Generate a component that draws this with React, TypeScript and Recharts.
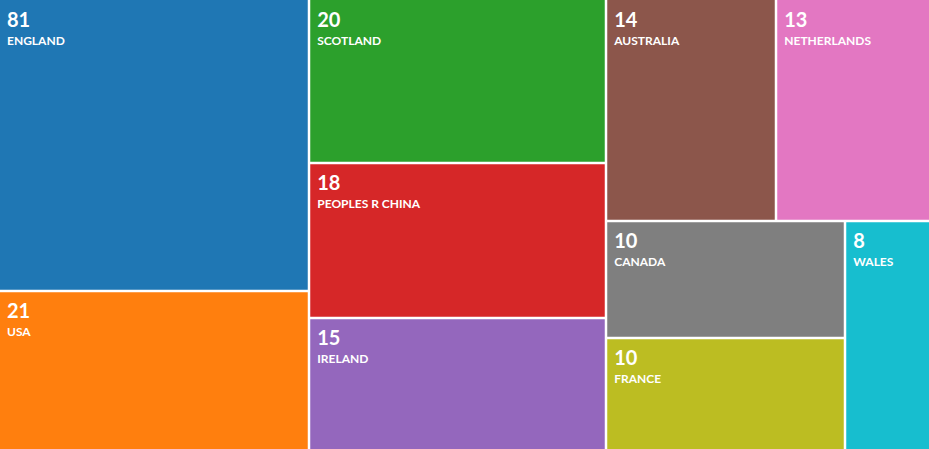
import React from "react";
import { Treemap } from "recharts";

// Category labels, displayed counts, and area weights
const countries = [
  "ENGLAND",
  "USA",
  "SCOTLAND",
  "PEOPLES R CHINA",
  "IRELAND",
  "AUSTRALIA",
  "NETHERLANDS",
  "CANADA",
  "FRANCE",
  "WALES",
];
const counts = [81, 21, 20, 18, 15, 14, 13, 10, 10, 8];
const areaWeights = [21.59, 11.67, 11.59, 11.02, 9.31, 9.03, 8.11, 6.72, 6.37, 4.59];

const PALETTE = [
  "#1f77b4",
  "#ff7f0e",
  "#2ca02c",
  "#d62728",
  "#9467bd",
  "#8c564b",
  "#e377c2",
  "#7f7f7f",
  "#bcbd22",
  "#17becf",
];

const W = 929;
const H = 449;
const GAP = 1.25;

const data = countries.map((name, i) => ({
  name,
  count: counts[i],
  size: areaWeights[i],
  colorIndex: i,
}));

const FONT = "Lato, 'Open Sans', sans-serif";

const Cell = (props: any) => {
  const { x, y, width, height, depth, name, count, colorIndex } = props;
  if (depth !== 1) return null;
  const x0 = x > 0.5 ? x + GAP : x;
  const y0 = y > 0.5 ? y + GAP : y;
  const x1 = x + width < W - 0.5 ? x + width - GAP : x + width;
  const y1 = y + height < H - 0.5 ? y + height - GAP : y + height;
  return (
    <g>
      <rect
        x={x0}
        y={y0}
        width={Math.max(0, x1 - x0)}
        height={Math.max(0, y1 - y0)}
        fill={PALETTE[colorIndex % PALETTE.length]}
        stroke="none"
      />
      <text
        x={x0 + 7}
        y={y + 27}
        fill="#ffffff"
        fontFamily={FONT}
        fontWeight={700}
        fontSize={20}
        stroke="none"
      >
        {count}
      </text>
      <text
        x={x0 + 7}
        y={y + 45}
        fill="#ffffff"
        fontFamily={FONT}
        fontWeight={700}
        fontSize={12}
        stroke="none"
      >
        {name}
      </text>
    </g>
  );
};

export default function App() {
  return (
    <div style={{ width: W, height: H }}>
      <style>{"body{margin:0;}"}</style>
      <Treemap
        width={W}
        height={H}
        data={data}
        dataKey="size"
        nameKey="name"
        isAnimationActive={false}
        content={<Cell />}
      />
    </div>
  );
}
